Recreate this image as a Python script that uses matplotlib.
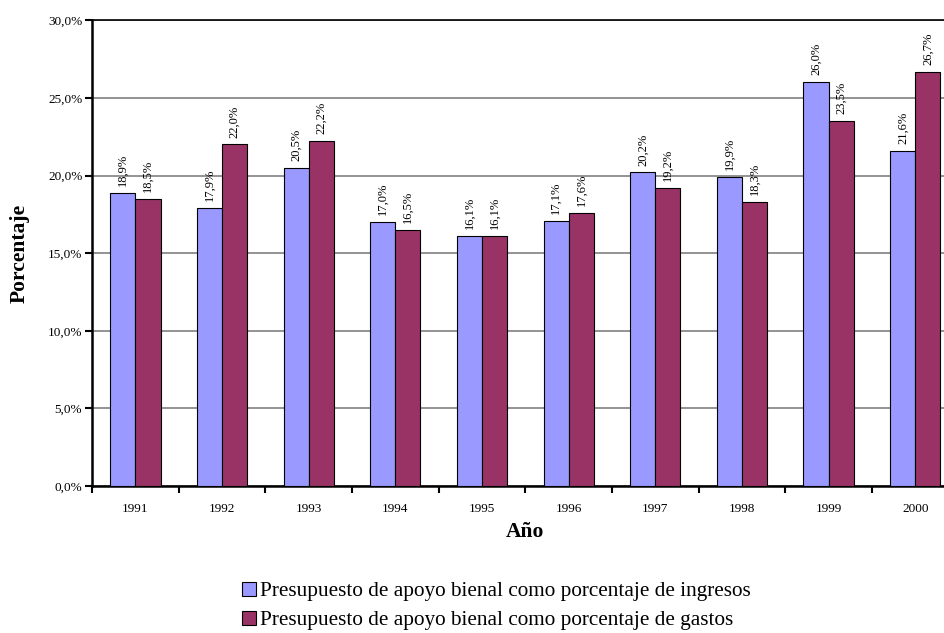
import numpy as np
import matplotlib.pyplot as plt
from matplotlib.ticker import FuncFormatter

plt.rcParams['font.family'] = ['Liberation Serif', 'DejaVu Serif']

years = ['1991', '1992', '1993', '1994', '1995', '1996', '1997', '1998', '1999', '2000']
ingresos = [18.9, 17.9, 20.5, 17.0, 16.1, 17.1, 20.2, 19.9, 26.0, 21.6]
gastos = [18.5, 22.0, 22.2, 16.5, 16.1, 17.6, 19.2, 18.3, 23.5, 26.7]

lab_ing = 'Presupuesto de apoyo bienal como porcentaje de ingresos'
lab_gas = 'Presupuesto de apoyo bienal como porcentaje de gastos'

fig = plt.figure(figsize=(9.45, 6.33), dpi=100)
# axes runs a bit past the right edge, as in the original
ax = fig.add_axes([0.0974, 0.232, 0.917, 0.736])

x = np.arange(len(years))
w = 0.29
b1 = ax.bar(x - w/2, ingresos, w, color='#9999FF', edgecolor='black', linewidth=0.8, label=lab_ing, zorder=3)
b2 = ax.bar(x + w/2, gastos, w, color='#993366', edgecolor='black', linewidth=0.8, label=lab_gas, zorder=3)

def fmt(v):
    return ('%.1f' % v).replace('.', ',') + '%'

for bars, vals in ((b1, ingresos), (b2, gastos)):
    for r, v in zip(bars, vals):
        ax.annotate(fmt(v), (r.get_x() + r.get_width()/2, v), xytext=(0, 5),
                    textcoords='offset points', rotation=90, ha='center', va='bottom',
                    fontsize=9)

ax.set_xlim(-0.5, len(years) - 0.5)
ax.set_ylim(0, 30)
ax.set_yticks(np.arange(0, 31, 5))
ax.yaxis.set_major_formatter(FuncFormatter(lambda v, p: fmt(v)))
ax.yaxis.grid(True, color='#808080', linewidth=1.2, zorder=0)
ax.set_axisbelow(True)

ax.set_xticks(x)
ax.set_xticklabels(years)
ax.set_xticks(np.arange(-0.5, len(years)), minor=True)
ax.tick_params(axis='x', which='major', length=0, pad=12, labelsize=9.5)
ax.tick_params(axis='x', which='minor', length=5, width=1.5, direction='out')
ax.tick_params(axis='y', length=5, width=1.5, direction='out', labelsize=9.5, pad=2)

for s in ('left', 'bottom'):
    ax.spines[s].set_linewidth(1.8)
ax.spines['top'].set_linewidth(1.2)
ax.spines['right'].set_visible(False)

ax.set_xlabel('Año', fontsize=15.5, fontweight='bold', labelpad=5)
ax.set_ylabel('Porcentaje', fontsize=15.5, fontweight='bold', labelpad=13)

fig.legend(handles=[b1, b2], loc='upper left', bbox_to_anchor=(0.245, 0.098),
           frameon=False, fontsize=15.3, handlelength=0.65, handleheight=0.65,
           handletextpad=0.2, labelspacing=0.45, borderpad=0)

fig.savefig('out.png', dpi=100)
